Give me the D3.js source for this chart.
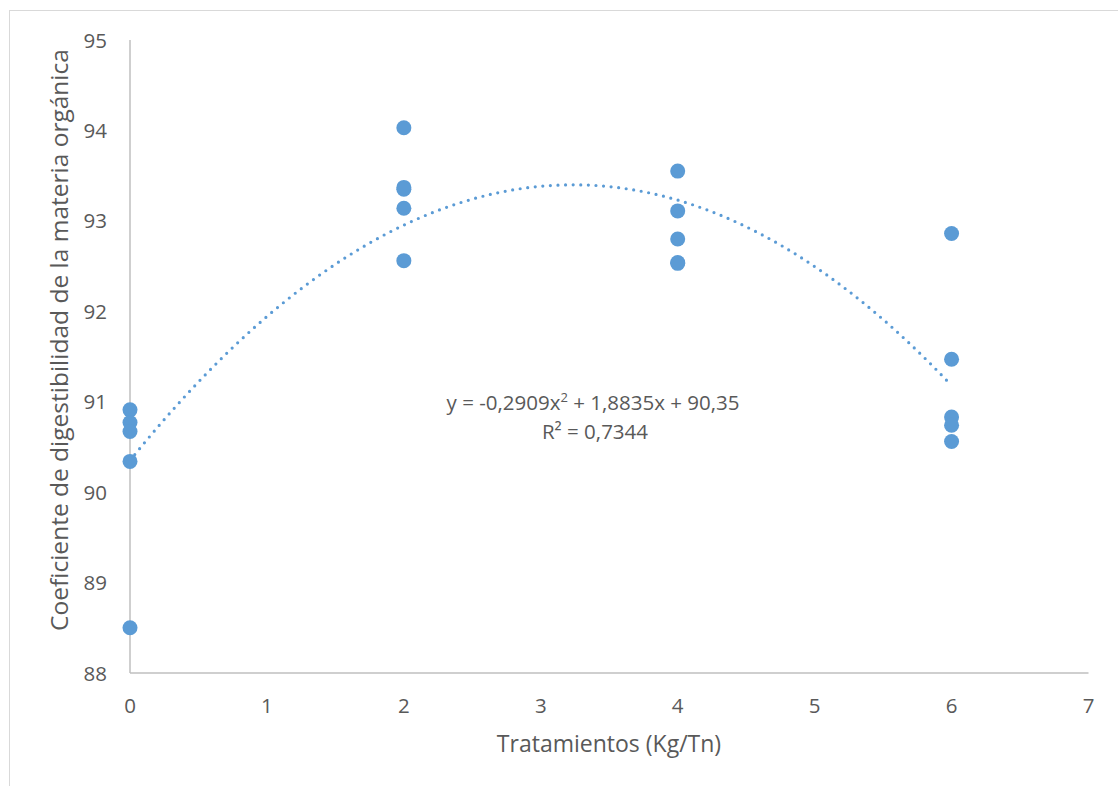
<!DOCTYPE html>
<html><head><meta charset="utf-8">
<script src="https://cdn.jsdelivr.net/npm/d3@7"></script>
<style>
body{margin:0;background:#fff;}
text{font-family:"Open Sans","Noto Sans",sans-serif;fill:#595959;}
</style></head>
<body><svg id="c" width="1118" height="786"></svg>
<script>
const xValues = [0,0,0,0,0, 2,2,2,2,2, 4,4,4,4,4, 6,6,6,6,6];
const yValues = [90.91,90.77,90.67,90.34,88.50, 94.03,93.37,93.35,93.14,92.56, 93.55,93.11,92.80,92.54,92.53, 92.86,91.47,90.83,90.74,90.56];
const xTicks = [0,1,2,3,4,5,6,7];
const yTicks = [88,89,90,91,92,93,94,95];
const trendCoef = [90.35, 1.8835, -0.2909]; // c, b, a
const trendRange = [0, 6];
const eqLabel = "y = -0,2909x";
const eqLabel2 = " + 1,8835x + 90,35";
const r2Label = "R² = 0,7344";
const xTitle = "Tratamientos (Kg/Tn)";
const yTitle = "Coeficiente de digestibilidad de la materia orgánica";

const svg = d3.select("#c");
svg.append("rect").attr("x",9.5).attr("y",10.5).attr("width",1120).attr("height",790)
  .attr("fill","none").attr("stroke","#d9d9d9").attr("stroke-width",1);

const x = d3.scaleLinear().domain([0,7]).range([130,1088.5]);
const y = d3.scaleLinear().domain([88,95]).range([673,40]);

const axisColor = "#bfbfbf";
svg.append("line").attr("x1",x(0)).attr("x2",x(7)).attr("y1",y(88)).attr("y2",y(88))
  .attr("stroke",axisColor).attr("stroke-width",1.5);
svg.append("line").attr("x1",x(0)).attr("x2",x(0)).attr("y1",y(88)).attr("y2",y(95))
  .attr("stroke",axisColor).attr("stroke-width",1.5);

svg.selectAll(".xt").data(xTicks).enter().append("text")
  .attr("x",d=>x(d)).attr("y",713).attr("text-anchor","middle")
  .attr("font-size",20.5).text(d=>d);
svg.selectAll(".yt").data(yTicks).enter().append("text")
  .attr("x",107).attr("y",d=>y(d)+7.5).attr("text-anchor","end")
  .attr("font-size",20.5).text(d=>d);

// trendline
const tPts = d3.range(trendRange[0], trendRange[1]+0.001, 0.05)
  .map(t=>[t, trendCoef[0]+trendCoef[1]*t+trendCoef[2]*t*t]);
svg.append("path").datum(tPts)
  .attr("d", d3.line().x(d=>x(d[0])).y(d=>y(d[1])))
  .attr("fill","none").attr("stroke","#5b9bd5").attr("stroke-width",3.2)
  .attr("stroke-linecap","round").attr("stroke-dasharray","0 7.6");

// points
svg.selectAll(".pt").data(xValues.map((v,i)=>[v,yValues[i]])).enter().append("circle")
  .attr("cx",d=>x(d[0])).attr("cy",d=>y(d[1])).attr("r",7.5).attr("fill","#5b9bd5");

// equation
const eq = svg.append("text").attr("x",593).attr("y",410).attr("text-anchor","middle").attr("font-size",20.5);
eq.append("tspan").text(eqLabel);
eq.append("tspan").attr("font-size",13).attr("dy",-8).text("2");
eq.append("tspan").attr("dy",8).text(eqLabel2);
svg.append("text").attr("x",595).attr("y",439).attr("text-anchor","middle").attr("font-size",20.5).text(r2Label);

svg.append("text").attr("x",609).attr("y",752).attr("text-anchor","middle").attr("font-size",23).text(xTitle);
svg.append("text").attr("transform","translate(68,340) rotate(-90)").attr("text-anchor","middle")
  .attr("font-size",24.5).text(yTitle);
</script></body></html>
